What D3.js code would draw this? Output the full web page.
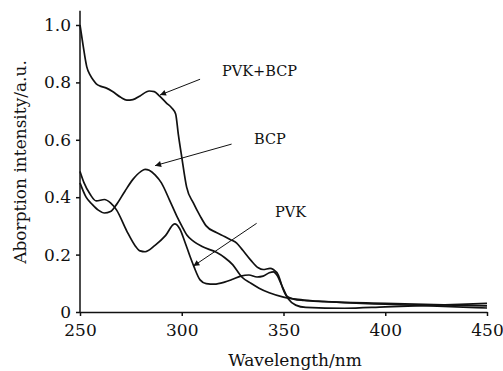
<!DOCTYPE html>
<html>
<head>
<meta charset="utf-8">
<script src="https://cdn.jsdelivr.net/npm/d3@7"></script>
<style>
  body { margin: 0; background: #fff; }
  #chart { width: 503px; height: 371px; }
  text { font-family: "DejaVu Serif", "Liberation Serif", serif; fill: #111; }
</style>
</head>
<body>
<div id="chart"></div>
<script>
// values: [wavelength nm, absorption]
const pvkBcp = [
  [250, 1.0], [251.5, 0.93], [253.3, 0.855], [255, 0.825], [256.5, 0.808], [258, 0.795],
  [260, 0.787], [263, 0.78], [266, 0.768], [270, 0.748], [273, 0.738], [276, 0.74],
  [279.5, 0.753], [284, 0.77], [286.5, 0.768], [289, 0.753], [292.5, 0.728], [295, 0.712],
  [297, 0.69], [298.3, 0.62], [300, 0.54], [302.4, 0.435], [305.7, 0.38], [309, 0.335],
  [312, 0.3], [317, 0.277], [321, 0.263], [324, 0.252], [327, 0.24], [330, 0.215],
  [334, 0.18], [337.6, 0.154], [340, 0.148], [343.4, 0.152], [345, 0.148], [347.5, 0.128],
  [349.5, 0.085], [351.6, 0.055], [355, 0.045], [360, 0.04], [370, 0.036],
  [400, 0.03], [450, 0.021]
];
const bcp = [
  [250, 0.45], [253, 0.40], [256, 0.375], [259, 0.355], [262, 0.345], [265, 0.35],
  [268, 0.375], [272, 0.42], [276, 0.462], [280, 0.49], [282, 0.497], [284, 0.494],
  [287, 0.477], [290, 0.45], [294, 0.39], [297.5, 0.335], [300, 0.3], [302.5, 0.268],
  [306, 0.245], [310, 0.228], [317, 0.208], [321, 0.19], [325, 0.165], [329.5, 0.122],
  [334, 0.1], [338, 0.083], [343, 0.067], [350, 0.052], [356, 0.045], [363, 0.04],
  [380, 0.033], [400, 0.027], [450, 0.014]
];
const pvk = [
  [250, 0.49], [252, 0.45], [255, 0.41], [258, 0.387], [262, 0.392], [265, 0.38],
  [268, 0.355], [273, 0.282], [277, 0.232], [279.5, 0.213], [282, 0.21], [287, 0.233],
  [292, 0.266], [296.5, 0.307], [299, 0.29], [301.5, 0.245], [304, 0.195], [306, 0.158],
  [309, 0.112], [312, 0.099], [316, 0.097], [321, 0.104], [325, 0.114], [329, 0.125],
  [333, 0.129], [337, 0.122], [340, 0.125], [343, 0.137], [345, 0.14], [347, 0.126],
  [349, 0.095], [352.4, 0.045], [356, 0.024], [361, 0.016], [380, 0.013],
  [400, 0.018], [450, 0.03]
];
const series = [pvkBcp, bcp, pvk];

const xTicks = [250, 300, 350, 400, 450];
const yTicks = [0, 0.2, 0.4, 0.6, 0.8, 1.0];

// label text, label anchor, arrow tail, arrow head (data units)
const labels = ["PVK+BCP", "BCP", "PVK"];
const labelPos = [[319.8, 0.822], [335.5, 0.585], [345.8, 0.331]];
const arrowTail = [[309, 0.811], [324.5, 0.585], [336.8, 0.309]];
const arrowHead = [[289.3, 0.756], [286.9, 0.51], [305.7, 0.16]];

const width = 503, height = 371;
const margin = {top: 25, left: 80, right: 16, bottom: 59};

const svg = d3.select("#chart")
  .append("svg")
  .attr("width", width)
  .attr("height", height);

const xScale = d3.scaleLinear()
  .domain([250, 450])
  .range([margin.left, width - margin.right]);

const yScale = d3.scaleLinear()
  .domain([0, 1])
  .range([height - margin.bottom, margin.top]);

svg.append("defs").append("marker")
  .attr("id", "head")
  .attr("viewBox", "0 0 10 10")
  .attr("refX", 10).attr("refY", 5)
  .attr("markerWidth", 9).attr("markerHeight", 6)
  .attr("markerUnits", "userSpaceOnUse")
  .attr("orient", "auto")
  .append("path")
  .attr("d", "M0,0 L10,5 L0,10 Z")
  .attr("fill", "#111");

// axes
const xAxis = svg.append("g")
  .attr("transform", `translate(0,${yScale(0)})`)
  .call(d3.axisBottom(xScale).tickValues(xTicks).tickSize(4).tickPadding(8).tickSizeOuter(0));

const yAxis = svg.append("g")
  .attr("transform", `translate(${xScale(250)},0)`)
  .call(d3.axisLeft(yScale).tickValues(yTicks).tickSize(4).tickPadding(5).tickSizeOuter(0)
    .tickFormat(d => d === 0 ? "0" : d3.format(".1f")(d)));

// y axis line runs a bit above 1.0
yAxis.select(".domain").attr("d", `M0,${yScale(0)}V${yScale(1.05)}`);

[xAxis, yAxis].forEach(g => {
  g.selectAll("path, line").attr("stroke", "#111").attr("stroke-width", 1.5);
  g.selectAll("text").attr("font-size", 17).attr("font-family", "DejaVu Serif").attr("fill", "#111");
});

// spectra
const line = d3.line()
  .x(d => xScale(d[0]))
  .y(d => yScale(d[1]))
  .curve(d3.curveMonotoneX);

svg.selectAll(".spectrum")
  .data(series)
  .enter()
  .append("path")
  .attr("class", "spectrum")
  .attr("d", line)
  .attr("fill", "none")
  .attr("stroke", "#111")
  .attr("stroke-width", 1.7);

// annotations
svg.selectAll(".arrow")
  .data(arrowTail)
  .enter()
  .append("line")
  .attr("class", "arrow")
  .attr("x1", d => xScale(d[0]))
  .attr("y1", d => yScale(d[1]))
  .attr("x2", (d, i) => xScale(arrowHead[i][0]))
  .attr("y2", (d, i) => yScale(arrowHead[i][1]))
  .attr("stroke", "#111")
  .attr("stroke-width", 1)
  .attr("marker-end", "url(#head)");

svg.selectAll(".label")
  .data(labels)
  .enter()
  .append("text")
  .attr("class", "label")
  .attr("x", (d, i) => xScale(labelPos[i][0]))
  .attr("y", (d, i) => yScale(labelPos[i][1]))
  .attr("font-size", 14.5)
  .text(d => d);

// axis titles
svg.append("text")
  .attr("x", 295)
  .attr("y", 366)
  .attr("text-anchor", "middle")
  .attr("font-size", 17)
  .text("Wavelength/nm");

svg.append("text")
  .attr("transform", "translate(26,162) rotate(-90)")
  .attr("text-anchor", "middle")
  .attr("font-size", 17)
  .text("Aborption intensity/a.u.");
</script>
</body>
</html>
